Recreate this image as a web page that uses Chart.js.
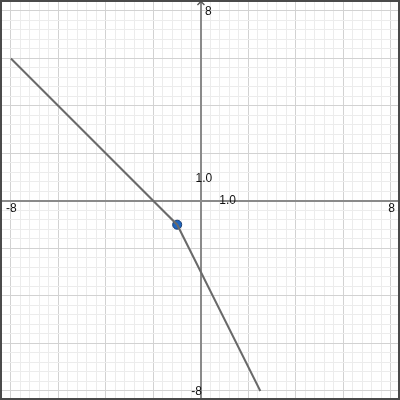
<!DOCTYPE html>
<html>
<head>
<meta charset="utf-8">
<style>
  html, body { margin: 0; padding: 0; background: #fff; }
  canvas { display: block; }
</style>
<script src="https://cdn.jsdelivr.net/npm/chart.js@4"></script>
</head>
<body>
<canvas id="graph" width="400" height="400"></canvas>
<script>
// piecewise line and the marked point
const lineX = [-8, -1, 2.5];
const lineY = [6, -1, -8];
const pointX = [-1];
const pointY = [-1];

// axis labels: [value, text]
const xTickLabels = [[-8, '-8'], [1, '1.0'], [8, '8']];
const yTickLabels = [[8, '8'], [1, '1.0'], [-8, '-8']];

const minorStep = 0.4;
const majorStep = 2;

function gridTicks(scale) {
    const ticks = [];
    for (let i = -21; i <= 21; i++) {
        ticks.push({ value: +(i * minorStep).toFixed(1) });
    }
    scale.ticks = ticks;
}

function gridColor(ctx) {
    const v = ctx.tick ? ctx.tick.value : 1;
    const r = v / majorStep;
    if (Math.abs(r - Math.round(r)) < 1e-6) return '#d2d2d2';
    return '#ececec';
}

const axisDecor = {
    id: 'axisDecor',
    beforeDatasetsDraw(chart) {
        // the two axes through the origin, over the grid
        const c = chart.ctx;
        const area = chart.chartArea;
        const x0 = chart.scales.x.getPixelForValue(0);
        const y0 = chart.scales.y.getPixelForValue(0);
        c.save();
        c.strokeStyle = '#8a8a8a';
        c.lineWidth = 2;
        c.beginPath();
        c.moveTo(Math.round(x0), area.top);
        c.lineTo(Math.round(x0), area.bottom);
        c.moveTo(area.left, Math.round(y0));
        c.lineTo(area.right, Math.round(y0));
        c.stroke();
        c.restore();
    },
    afterDraw(chart) {
        const c = chart.ctx;
        const xs = chart.scales.x;
        const ys = chart.scales.y;
        const x0 = xs.getPixelForValue(0);
        const y0 = ys.getPixelForValue(0);
        c.save();
        c.fillStyle = '#111';
        c.font = '12px "Liberation Sans", Arial, sans-serif';

        // x axis labels
        xTickLabels.forEach(([v, t]) => {
            const px = xs.getPixelForValue(v);
            if (t === '1.0') {
                c.textAlign = 'center';
                c.textBaseline = 'middle';
                c.fillText(t, px + 3, y0);
            } else {
                c.textAlign = 'center';
                c.textBaseline = 'top';
                c.fillText(t, px + 0.5, y0 + 2);
            }
        });

        // y axis labels
        yTickLabels.forEach(([v, t]) => {
            const py = ys.getPixelForValue(v);
            c.textBaseline = 'middle';
            if (t === '1.0') {
                c.textAlign = 'center';
                c.fillText(t, x0 + 3, py + 1.5);
            } else if (v > 0) {
                c.textAlign = 'left';
                c.fillText(t, x0 + 4, py + 0.5);
            } else {
                c.textAlign = 'right';
                c.fillText(t, x0 + 1, py + 0.5);
            }
        });

        // arrow at the top of the y axis
        c.strokeStyle = '#555';
        c.lineWidth = 1.3;
        c.beginPath();
        c.moveTo(x0 - 3.5, 5);
        c.lineTo(x0, 1.5);
        c.lineTo(x0 + 3.5, 5);
        c.stroke();

        // frame
        c.strokeStyle = '#4a4a4a';
        c.lineWidth = 2;
        c.strokeRect(1, 1, 398, 398);
        c.restore();
    }
};

const ctx = document.getElementById('graph').getContext('2d');
new Chart(ctx, {
    type: 'scatter',
    data: {
        datasets: [
            {
                data: lineX.map((x, i) => ({ x: x, y: lineY[i] })),
                showLine: true,
                borderColor: '#6a6a6a',
                borderWidth: 2,
                pointRadius: 0,
                tension: 0
            },
            {
                data: pointX.map((x, i) => ({ x: x, y: pointY[i] })),
                pointRadius: 4.5,
                backgroundColor: '#1f66c1',
                borderColor: '#1b3f73',
                borderWidth: 1
            }
        ]
    },
    options: {
        responsive: false,
        animation: false,
        devicePixelRatio: 1,
        layout: { padding: 0, autoPadding: false },
        scales: {
            x: {
                type: 'linear',
                min: -8.46,
                max: 8.38,
                afterBuildTicks: gridTicks,
                ticks: { display: false },
                border: { display: false },
                grid: { color: gridColor, lineWidth: 1, drawTicks: false }
            },
            y: {
                type: 'linear',
                min: -8.38,
                max: 8.46,
                afterBuildTicks: gridTicks,
                ticks: { display: false },
                border: { display: false },
                grid: { color: gridColor, lineWidth: 1, drawTicks: false }
            }
        },
        plugins: {
            legend: { display: false },
            tooltip: { enabled: false }
        }
    },
    plugins: [axisDecor]
});
</script>
</body>
</html>
